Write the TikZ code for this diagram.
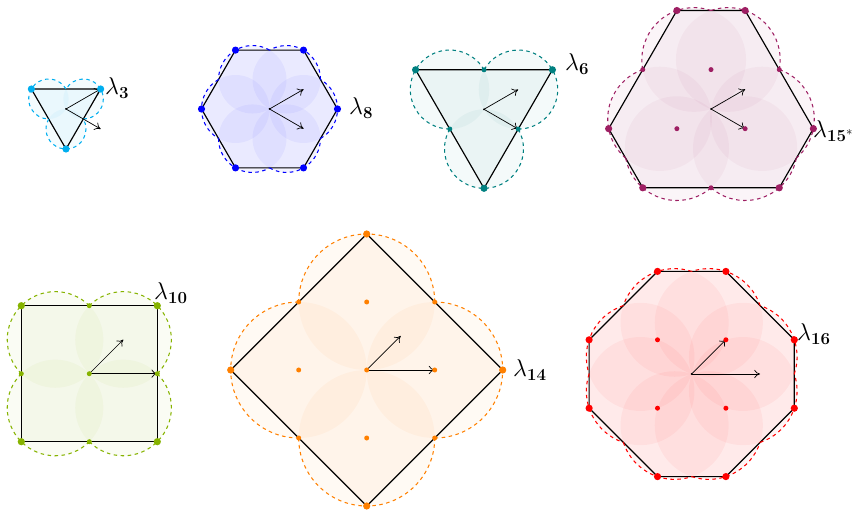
\documentclass[tikz,border=0pt]{standalone}
\usepackage{amsmath,amssymb}
\usepackage{tikz}
\usetikzlibrary{arrows,arrows.meta,calc}
\usepackage{xcolor}

\definecolor{lamcyan}{RGB}{0,174,239}
\definecolor{lamteal}{RGB}{0,128,128}
\definecolor{lampurple}{RGB}{158,31,99}
\definecolor{lamgreen}{RGB}{134,179,0}
\definecolor{lamorange}{RGB}{255,128,0}

\tikzset{
  zone/.style={fill=#1!4},
  lobe/.style={fill=#1, fill opacity=0.045},
  rim/.style={#1, dashed, line width=0.9pt},
  zoneline/.style={black, line width=1pt, line join=round},
  vec/.style={-{To[length=5pt,width=7pt]}, line width=0.6pt},
  lab/.style={anchor=west, inner sep=0pt, font=\fontsize{22}{26}\selectfont}
}

\begin{document}
\begin{tikzpicture}[x=0.3mm, y=0.3mm]
\useasboundingbox (0,0) rectangle (858,517);

% lambda_3 triangle
\begin{scope}[shift={(66,408)}]
  \coordinate (O3) at (0,0);
  \coordinate (T1) at (150:40);
  \coordinate (T2) at (30:40);
  \coordinate (T3) at (270:40);
  \coordinate (T3b) at (-30:40);
  \fill[zone=lamcyan] (T1) -- (T2) -- (T3) -- cycle;
  \foreach \a in {30,150,270}
    \fill[lobe=lamcyan] (\a:20) circle[radius=20];
  \draw[zoneline] (T1) -- (T2) -- (T3) -- cycle;
  \foreach \a in {30,150,270}
    \draw[rim=lamcyan] (\a:20) ++(\a-120:20) arc[start angle=\a-120, end angle=\a+120, radius=20];
  \draw[vec] (O3) -- (T2);
  \draw[vec] (O3) -- (T3b);
  \foreach \p in {T1,T2,T3}
    \fill[lamcyan] (\p) circle[radius=3.6];
  \fill (O3) circle[radius=1];
\end{scope}

% lambda_8 hexagon
\begin{scope}[shift={(269.5,408)}]
  \coordinate (O8) at (0,0);
  \foreach \i/\a in {1/0,2/60,3/120,4/180,5/240,6/300}
    \coordinate (S\i) at (\a:68);
  \coordinate (S8a) at (30:39.3);
  \coordinate (S8b) at (-30:39.3);
  \fill[zone=blue] (S1) -- (S2) -- (S3) -- (S4) -- (S5) -- (S6) -- cycle;
  \foreach \a in {0,60,...,300}
    \fill[lobe=blue] (\a:34) circle[radius=34];
  \draw[zoneline] (S1) -- (S2) -- (S3) -- (S4) -- (S5) -- (S6) -- cycle;
  \foreach \a in {0,60,...,300}
    \draw[rim=blue] (\a:34) ++(\a-60:34) arc[start angle=\a-60, end angle=\a+60, radius=34];
  \draw[vec] (O8) -- (S8a);
  \draw[vec] (O8) -- (S8b);
  \foreach \p in {S1,S2,S3,S4,S5,S6}
    \fill[blue] (\p) circle[radius=3.6];
  \fill (O8) circle[radius=1];
\end{scope}

% lambda_6 triangle
\begin{scope}[shift={(484,407.7)}]
  \coordinate (O6) at (0,0);
  \coordinate (U1) at (150:79);
  \coordinate (U2) at (30:79);
  \coordinate (U3) at (270:79);
  \coordinate (M1) at (90:39.5);
  \coordinate (M2) at (210:39.5);
  \coordinate (M3) at (330:39.5);
  \coordinate (U6a) at (30:39.5);
  \fill[zone=lamteal] (U1) -- (U2) -- (U3) -- cycle;
  \foreach \a in {30,150,270}
    \fill[lobe=lamteal] (\a:39.5) circle[radius=39.5];
  \draw[zoneline] (U1) -- (U2) -- (U3) -- cycle;
  \foreach \a in {30,150,270}
    \draw[rim=lamteal] (\a:39.5) ++(\a-120:39.5) arc[start angle=\a-120, end angle=\a+120, radius=39.5];
  \draw[vec] (O6) -- (U6a);
  \draw[vec] (O6) -- (M3);
  \foreach \p in {U1,U2,U3}
    \fill[lamteal] (\p) circle[radius=3.6];
  \foreach \p in {M1,M2,M3}
    \fill[lamteal] (\p) circle[radius=2.5];
  \fill (O6) circle[radius=1];
\end{scope}

% lambda_15* truncated triangle
\begin{scope}[shift={(711,408)}]
  \coordinate (O15) at (0,0);
  \foreach \i/\a in {1/70.89,2/109.11,3/190.89,4/229.11,5/310.89,6/349.11}
    \coordinate (H\i) at (\a:104.24);
  \coordinate (I1) at (90:39.4);
  \coordinate (I2) at (210:39.4);
  \coordinate (I3) at (330:39.4);
  \coordinate (E1) at (30:78.8);
  \coordinate (E2) at (150:78.8);
  \coordinate (E3) at (270:78.8);
  \coordinate (H15a) at (30:39.4);
  \fill[zone=lampurple] (H1) -- (H2) -- (H3) -- (H4) -- (H5) -- (H6) -- cycle;
  \foreach \a in {70.89,109.11,190.89,229.11,310.89,349.11}
    \fill[lobe=lampurple] (\a:52.12) circle[radius=52.12];
  \draw[zoneline] (H1) -- (H2) -- (H3) -- (H4) -- (H5) -- (H6) -- cycle;
  \foreach \a in {70.89,190.89,310.89}
    \draw[rim=lampurple] (\a:52.12) ++(\a-81.79:52.12) arc[start angle=\a-81.79, end angle=\a+38.21, radius=52.12];
  \foreach \a in {109.11,229.11,349.11}
    \draw[rim=lampurple] (\a:52.12) ++(\a-38.21:52.12) arc[start angle=\a-38.21, end angle=\a+81.79, radius=52.12];
  \draw[vec] (O15) -- (H15a);
  \draw[vec] (O15) -- (I3);
  \foreach \p in {H1,H2,H3,H4,H5,H6}
    \fill[lampurple] (\p) circle[radius=3.6];
  \foreach \p in {I1,I2,I3,E1,E2,E3}
    \fill[lampurple] (\p) circle[radius=2.5];
  \fill (O15) circle[radius=1];
\end{scope}

% lambda_10 square
\begin{scope}[shift={(89.3,143.3)}]
  \coordinate (O10) at (0,0);
  \coordinate (Q1) at (68,68);
  \coordinate (Q2) at (-68,68);
  \coordinate (Q3) at (-68,-68);
  \coordinate (Q4) at (68,-68);
  \coordinate (N1) at (68,0);
  \coordinate (N2) at (0,68);
  \coordinate (N3) at (-68,0);
  \coordinate (N4) at (0,-68);
  \coordinate (Q10a) at (34,34);
  \fill[zone=lamgreen] (Q1) -- (Q2) -- (Q3) -- (Q4) -- cycle;
  \foreach \a in {45,135,225,315}
    \fill[lobe=lamgreen] (\a:48.08) circle[radius=48.08];
  \draw[zoneline] (Q1) -- (Q2) -- (Q3) -- (Q4) -- cycle;
  \foreach \a in {45,135,225,315}
    \draw[rim=lamgreen] (\a:48.08) ++(\a-90:48.08) arc[start angle=\a-90, end angle=\a+90, radius=48.08];
  \draw[vec] (O10) -- (Q10a);
  \draw[vec] (O10) -- (N1);
  \foreach \p in {Q1,Q2,Q3,Q4}
    \fill[lamgreen] (\p) circle[radius=3.6];
  \foreach \p in {N1,N2,N3,N4,O10}
    \fill[lamgreen] (\p) circle[radius=2.5];
\end{scope}

% lambda_14 diamond
\begin{scope}[shift={(366.7,147)}]
  \coordinate (O14) at (0,0);
  \coordinate (D1) at (0:136);
  \coordinate (D2) at (90:136);
  \coordinate (D3) at (180:136);
  \coordinate (D4) at (270:136);
  \coordinate (K1) at (68,68);
  \coordinate (K2) at (-68,68);
  \coordinate (K3) at (-68,-68);
  \coordinate (K4) at (68,-68);
  \coordinate (J1) at (68,0);
  \coordinate (J2) at (0,68);
  \coordinate (J3) at (-68,0);
  \coordinate (J4) at (0,-68);
  \coordinate (D14a) at (34,34);
  \fill[zone=lamorange] (D1) -- (D2) -- (D3) -- (D4) -- cycle;
  \foreach \a in {0,90,180,270}
    \fill[lobe=lamorange] (\a:68) circle[radius=68];
  \draw[zoneline] (D1) -- (D2) -- (D3) -- (D4) -- cycle;
  \foreach \a in {0,90,180,270}
    \draw[rim=lamorange] (\a:68) ++(\a-90:68) arc[start angle=\a-90, end angle=\a+90, radius=68];
  \draw[vec] (O14) -- (D14a);
  \draw[vec] (O14) -- (J1);
  \foreach \p in {D1,D2,D3,D4}
    \fill[lamorange] (\p) circle[radius=3.6];
  \foreach \p in {K1,K2,K3,K4,J1,J2,J3,J4,O14}
    \fill[lamorange] (\p) circle[radius=2.5];
\end{scope}

% lambda_16 octagon
\begin{scope}[shift={(691.7,143)}]
  \coordinate (O16) at (0,0);
  \foreach \i/\a in {1/18.43,2/71.57,3/108.43,4/161.57,5/198.43,6/251.57,7/288.43,8/341.57}
    \coordinate (G\i) at (\a:108.15);
  \coordinate (W1) at (34.2,34.2);
  \coordinate (W2) at (-34.2,34.2);
  \coordinate (W3) at (-34.2,-34.2);
  \coordinate (W4) at (34.2,-34.2);
  \coordinate (G16b) at (68.4,0);
  \fill[zone=red] (G1) -- (G2) -- (G3) -- (G4) -- (G5) -- (G6) -- (G7) -- (G8) -- cycle;
  \foreach \a in {18.43,71.57,108.43,161.57,198.43,251.57,288.43,341.57}
    \fill[lobe=red] (\a:54.08) circle[radius=54.08];
  \draw[zoneline] (G1) -- (G2) -- (G3) -- (G4) -- (G5) -- (G6) -- (G7) -- (G8) -- cycle;
  \foreach \a in {18.43,108.43,198.43,288.43}
    \draw[rim=red] (\a:54.08) ++(\a-36.87:54.08) arc[start angle=\a-36.87, end angle=\a+53.13, radius=54.08];
  \foreach \a in {71.57,161.57,251.57,341.57}
    \draw[rim=red] (\a:54.08) ++(\a-53.13:54.08) arc[start angle=\a-53.13, end angle=\a+36.87, radius=54.08];
  \draw[vec] (O16) -- (W1);
  \draw[vec] (O16) -- (G16b);
  \foreach \p in {G1,G2,G3,G4,G5,G6,G7,G8}
    \fill[red] (\p) circle[radius=3.6];
  \foreach \p in {W1,W2,W3,W4}
    \fill[red] (\p) circle[radius=2.5];
  \fill (O16) circle[radius=1];
\end{scope}

% labels
\node[lab] (L3) at (105,429) {$\lambda_{\mathbf{3}}$};
\node[lab] (L8) at (349,409) {$\lambda_{\mathbf{8}}$};
\node[lab] (L6) at (565,453) {$\lambda_{\mathbf{6}}$};
\node[lab] (L15) at (813,386) {$\lambda_{\mathbf{15}^{*}}$};
\node[lab] (L10) at (154,224) {$\lambda_{\mathbf{10}}$};
\node[lab] (L14) at (513,147) {$\lambda_{\mathbf{14}}$};
\node[lab] (L16) at (797,183) {$\lambda_{\mathbf{16}}$};
\end{tikzpicture}
\end{document}
